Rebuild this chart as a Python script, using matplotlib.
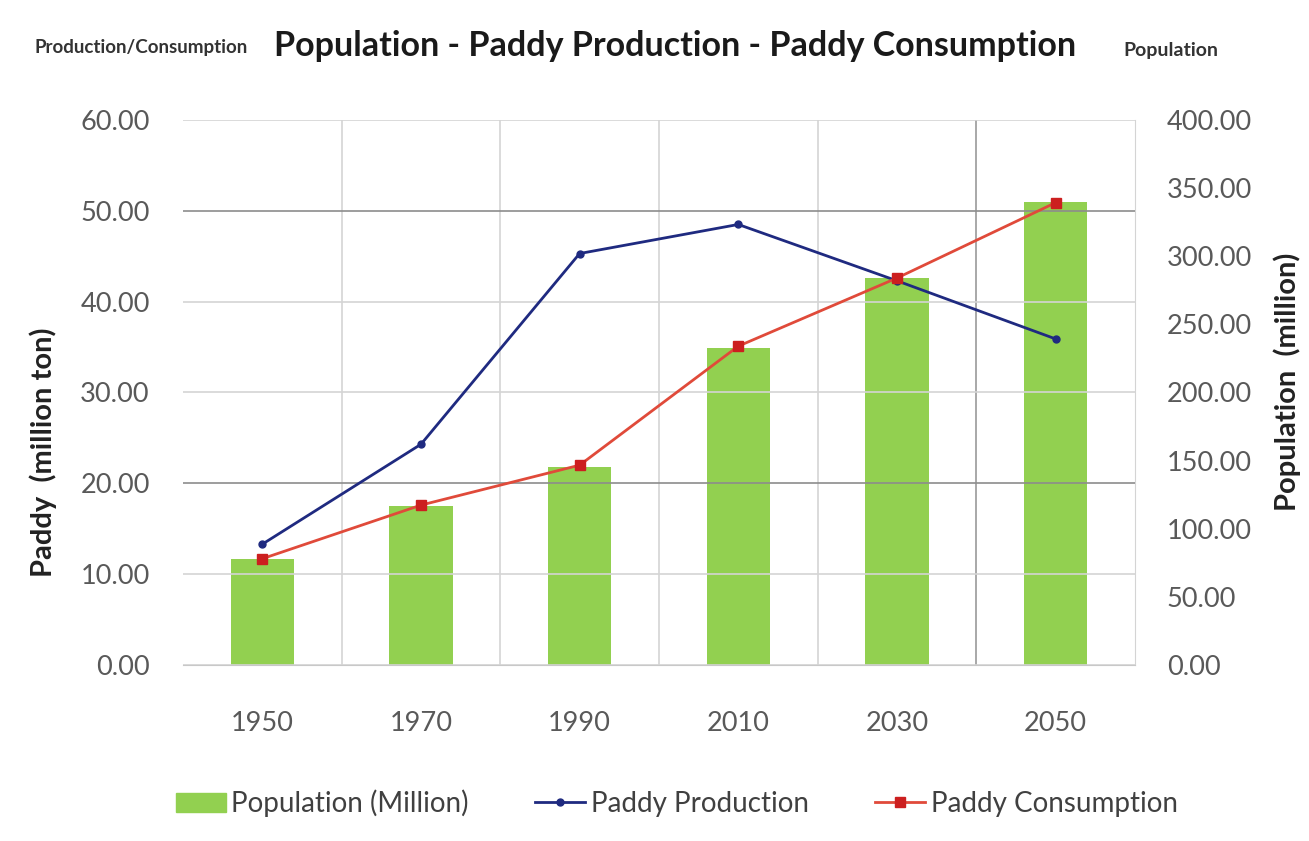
import numpy as np
import matplotlib
matplotlib.use("Agg")
import matplotlib.pyplot as plt
from matplotlib.lines import Line2D
from matplotlib.patches import Patch

plt.rcParams['font.family'] = ['Lato', 'DejaVu Sans']

years = ["1950", "1970", "1990", "2010", "2030", "2050"]
population = [78, 117, 145, 233, 284, 340]
production = [13.3, 24.3, 45.3, 48.5, 42.3, 35.9]
consumption = [11.7, 17.6, 22.0, 35.1, 42.6, 50.9]

fig = plt.figure(figsize=(13.09, 8.41), dpi=100)
ax = fig.add_axes([0.1398, 0.2093, 0.7272, 0.648])
ax2 = ax.twinx()

x = np.arange(len(years))
tick_col = "#595959"

# bars on the right axis (population), lines on the left axis
ax2.bar(x, population, width=0.40, color="#92d050", zorder=1)
ax2.set_ylim(0, 400)
ax2.set_yticks(np.arange(0, 401, 50))
ax2.set_yticklabels([f"{v:.2f}" for v in np.arange(0, 401, 50)])

ax.set_zorder(ax2.get_zorder() + 1)
ax.patch.set_visible(False)
ax.plot(x, production, color="#1f2a80", lw=2, marker="o", ms=5, zorder=3)
ax.plot(x, consumption, color="#e04a3a", lw=2, marker="s", ms=7.5,
        mfc="#cc1f1f", mec="#cc1f1f", zorder=4)

ax.set_xlim(-0.5, len(years) - 0.5)
ax.set_ylim(0, 60)
ax.set_yticks(np.arange(0, 61, 10))
ax.set_yticklabels([f"{v:.2f}" for v in np.arange(0, 61, 10)])
ax.set_xticks(x)
ax.set_xticklabels(years)
ax.set_xticks(np.arange(0.5, len(years) - 0.5, 1), minor=True)

ax.grid(axis="y", color="#d4d4d4", lw=1.2, zorder=0)
ax.grid(axis="x", which="minor", color="#d4d4d4", lw=1.2, zorder=0)
for i, gl in enumerate(ax.get_ygridlines()):
    if i in (2, 5):
        gl.set_color("#8c8c8c")
ax.xaxis.get_minor_ticks()[-1].gridline.set_color("#9a9a9a")

for a in (ax, ax2):
    for s in a.spines.values():
        s.set_visible(False)
    a.tick_params(length=0, labelsize=19.5, colors=tick_col)
ax.tick_params(axis="y", pad=24)
ax2.tick_params(axis="y", pad=23)
ax.tick_params(axis="x", which="both", length=0, pad=33)
ax.spines["bottom"].set_visible(True)
ax.spines["bottom"].set_color("#c8c8c8")
ax2.spines["right"].set_visible(True)
ax2.spines["right"].set_color("#d4d4d4")

ax.set_ylabel("Paddy  (million ton)", fontsize=21, fontweight="bold",
              color="#222222")
ax.yaxis.set_label_coords(-0.132, 0.39)
ax2.set_ylabel("Population  (million)", fontsize=21, fontweight="bold",
               color="#222222")
ax2.yaxis.set_label_coords(1.146, 0.52)

fig.text(0.516, 0.945, "Population - Paddy Production - Paddy Consumption",
         ha="center", va="center", fontsize=24.5, fontweight="bold", color="#1a1a1a")
fig.text(0.026, 0.943, "Production/Consumption", ha="left", va="center",
         fontsize=13.5, fontweight="bold", color="#333333")
fig.text(0.858, 0.940, "Population", ha="left", va="center",
         fontsize=14, fontweight="bold", color="#333333")

handles = [
    Patch(color="#92d050"),
    Line2D([], [], color="#1f2a80", lw=2, marker="o", ms=5),
    Line2D([], [], color="#e04a3a", lw=2, marker="s", ms=7,
           mfc="#cc1f1f", mec="#cc1f1f"),
]
labels = ["Population (Million)", "Paddy Production", "Paddy Consumption"]
fig.legend(handles, labels, loc="center", bbox_to_anchor=(0.517, 0.045),
           ncol=3, frameon=False, fontsize=20, labelcolor="#404040",
           handlelength=1.8, handletextpad=0.2, columnspacing=2.4)

fig.savefig("out.png", dpi=100)
